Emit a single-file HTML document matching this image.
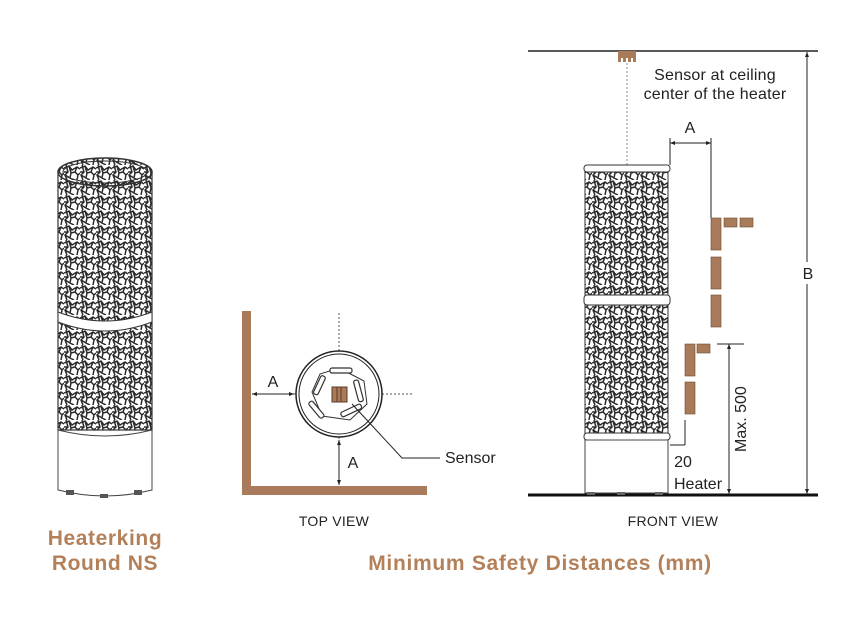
<!DOCTYPE html>
<html><head><meta charset="utf-8"><style>
body{margin:0;background:#fff;}
svg{display:block;font-family:"Liberation Sans",sans-serif;}
</style></head><body>
<svg width="860" height="619" viewBox="0 0 860 619" xmlns="http://www.w3.org/2000/svg">
<defs>
<pattern id="lace" width="16" height="15" patternUnits="userSpaceOnUse">
<rect width="16" height="15" fill="#fff"/>
<path d="M0 3 L5 1 L8 5 L13 2 L16 4 M2 0 L4 7 L1 10 L3 15 M5 1 L7 8 L11 7 L13 2 M7 8 L6 13 L10 15 M11 7 L14 10 L16 8 M14 10 L13 15 M6 13 L1 10 M0 7 L4 7" stroke="#2b2b2b" stroke-width="1.5" fill="none"/>
</pattern>
</defs>

<!-- Left heater -->
<rect x="58" y="172" width="94" height="258" fill="url(#lace)" stroke="#333" stroke-width="1.2"/>
<ellipse cx="105" cy="172" rx="47" ry="14" fill="url(#lace)" stroke="#333" stroke-width="1.5"/>
<ellipse cx="105" cy="172" rx="42" ry="11" fill="none" stroke="#333" stroke-width="1"/>
<path d="M58 312 Q105 330 152 312 L152 322 Q105 340 58 322 Z" fill="#fff" stroke="#333"/>
<path d="M58 430 L58 490 Q105 502 152 490 L152 430 Q105 442 58 430 Z" fill="#fff" stroke="#444"/>
<rect x="66" y="490" width="8" height="5" fill="#555"/><rect x="100" y="494" width="8" height="4" fill="#555"/><rect x="134" y="490" width="8" height="5" fill="#555"/>
<text x="105" y="545" text-anchor="middle" font-size="21" font-weight="bold" letter-spacing="0.6" fill="#b3805a">Heaterking</text>
<text x="105" y="570" text-anchor="middle" font-size="21" font-weight="bold" letter-spacing="0.6" fill="#b3805a">Round NS</text>

<!-- Top view -->
<path d="M242 311 L251 311 L251 486 L427 486 L427 495 L242 495 Z" fill="#a97b5a"/>
<line x1="339" y1="313" x2="339" y2="440" stroke="#555" stroke-dasharray="2,2"/>
<line x1="290" y1="394" x2="413" y2="394" stroke="#555" stroke-dasharray="2,2"/>
<circle cx="339" cy="394" r="43" fill="#fff" stroke="#222" stroke-width="1.5"/>
<circle cx="339" cy="394" r="40" fill="none" stroke="#222" stroke-width="1"/>
<polygon points="339,368 364,381 367,404 350,420 322,416 312,392 320,374" fill="none" stroke="#333"/>
<g fill="#fff" stroke="#333" stroke-width="1.2">
<rect x="330" y="368" width="22" height="5" rx="2"/>
<rect x="356" y="380" width="5" height="22" rx="2" transform="rotate(-15 358 391)"/>
<rect x="340" y="408" width="22" height="5" rx="2" transform="rotate(-25 351 410)"/>
<rect x="314" y="400" width="5" height="20" rx="2" transform="rotate(-40 316 410)"/>
<rect x="317" y="375" width="5" height="20" rx="2" transform="rotate(25 319 385)"/>
</g>
<rect x="332" y="387" width="15" height="15" fill="#a97b5a" stroke="#5a3b25"/>
<line x1="337" y1="387" x2="337" y2="402" stroke="#5a3b25"/><line x1="341" y1="387" x2="341" y2="402" stroke="#5a3b25"/>
<line x1="252" y1="394" x2="294" y2="394" stroke="#222"/>
<path d="M252 394 l5 -2 v4z M294 394 l-5 -2 v4z" fill="#222"/>
<text x="273" y="387" text-anchor="middle" font-size="16" fill="#222">A</text>
<line x1="339" y1="440" x2="339" y2="485" stroke="#222"/>
<path d="M339 440 l-2 5 h4z M339 485 l-2 -5 h4z" fill="#222"/>
<text x="353" y="468" text-anchor="middle" font-size="16" fill="#222">A</text>
<polyline points="352,404 402,458 440,458" fill="none" stroke="#222"/>
<text x="445" y="463" font-size="16" fill="#222">Sensor</text>
<text x="334" y="526" text-anchor="middle" font-size="14" letter-spacing="0.3" fill="#222">TOP VIEW</text>

<!-- Front view -->
<line x1="528" y1="51" x2="818" y2="51" stroke="#222" stroke-width="1.5"/>
<line x1="528" y1="495" x2="818" y2="495" stroke="#111" stroke-width="3"/>
<rect x="618" y="51" width="18" height="11" fill="#a97b5a"/>
<rect x="621" y="58" width="2" height="5" fill="#fff"/><rect x="626" y="58" width="2" height="5" fill="#fff"/><rect x="631" y="58" width="2" height="5" fill="#fff"/>
<text x="715" y="80" text-anchor="middle" font-size="16" letter-spacing="0.2" fill="#222">Sensor at ceiling</text>
<text x="715" y="99" text-anchor="middle" font-size="16" letter-spacing="0.2" fill="#222">center of the heater</text>
<line x1="627" y1="63" x2="627" y2="175" stroke="#888" stroke-dasharray="2,2"/>
<rect x="585" y="172" width="83" height="123" fill="url(#lace)" stroke="#333"/>
<rect x="585" y="305" width="83" height="130" fill="url(#lace)" stroke="#333"/>
<rect x="584" y="165" width="86" height="7" rx="3" fill="#fff" stroke="#333"/>
<rect x="584" y="295" width="86" height="10" rx="3" fill="#fff" stroke="#333"/>
<rect x="584" y="433" width="86" height="7" rx="3" fill="#fff" stroke="#333"/>
<rect x="585" y="440" width="83" height="53" fill="#fff" stroke="#444"/>
<rect x="587" y="492" width="8" height="3" fill="#666"/><rect x="617" y="492" width="8" height="3" fill="#666"/><rect x="655" y="492" width="8" height="3" fill="#666"/>
<line x1="670" y1="138" x2="670" y2="165" stroke="#222"/>
<line x1="711" y1="138" x2="711" y2="218" stroke="#222"/>
<line x1="670" y1="143" x2="711" y2="143" stroke="#222"/>
<path d="M670 143 l5 -2 v4z M711 143 l-5 -2 v4z" fill="#222"/>
<text x="690" y="133" text-anchor="middle" font-size="16" fill="#222">A</text>
<g fill="#a97b5a" stroke="#6b4a30" stroke-width="0.6">
<rect x="711" y="218" width="10" height="32"/><rect x="724" y="218" width="13" height="9"/><rect x="740" y="218" width="13" height="9"/>
<rect x="711" y="257" width="10" height="32"/><rect x="711" y="295" width="10" height="32"/>
<rect x="685" y="344" width="10" height="32"/><rect x="697" y="344" width="13" height="9"/>
<rect x="685" y="382" width="10" height="32"/>
</g>
<line x1="685" y1="420" x2="685" y2="445" stroke="#222"/>
<line x1="670" y1="445" x2="685" y2="445" stroke="#222"/>
<text x="683" y="467" text-anchor="middle" font-size="16" fill="#222">20</text>
<text x="674" y="489" font-size="16" fill="#222">Heater</text>
<line x1="717" y1="344" x2="744" y2="344" stroke="#222"/>
<line x1="729" y1="344" x2="729" y2="494" stroke="#222"/>
<path d="M729 344 l-2 5 h4z M729 494 l-2 -5 h4z" fill="#222"/>
<text transform="translate(746 452) rotate(-90)" font-size="16" fill="#222">Max. 500</text>
<line x1="807" y1="52" x2="807" y2="262" stroke="#222"/>
<line x1="807" y1="284" x2="807" y2="494" stroke="#222"/>
<path d="M807 52 l-2 5 h4z M807 494 l-2 -5 h4z" fill="#222"/>
<text x="808" y="279" text-anchor="middle" font-size="16" fill="#222">B</text>
<text x="673" y="526" text-anchor="middle" font-size="14" letter-spacing="0.3" fill="#222">FRONT VIEW</text>

<text x="540" y="570" text-anchor="middle" font-size="21" font-weight="bold" letter-spacing="0.7" fill="#b3805a">Minimum Safety Distances (mm)</text>
</svg>
</body></html>
